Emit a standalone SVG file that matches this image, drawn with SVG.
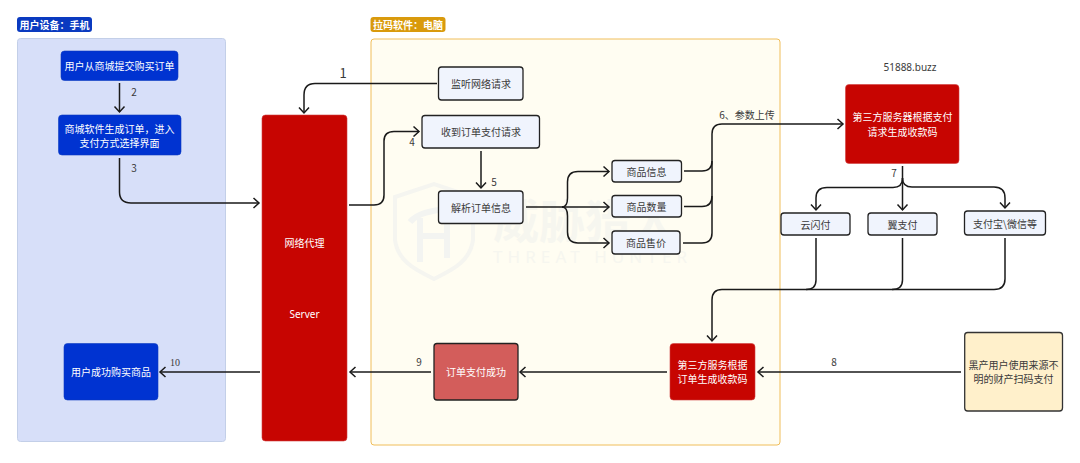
<svg xmlns="http://www.w3.org/2000/svg" width="1080" height="463" viewBox="0 0 1080 463">
<style>
text{font-family:"Noto Sans CJK SC","Noto Sans",sans-serif;font-size:10px;text-anchor:middle;fill:#3a3a3a}
.w{fill:#fff}
.lb{font-weight:700;fill:#fff}
.n{font-family:"Noto Sans","Noto Sans CJK SC",sans-serif}
.c{fill:none;stroke:#1a1a1a;stroke-width:1.5}
.a{marker-end:url(#arr)}
.blue{fill:#0033d1;stroke:#0a3ac0;stroke-width:.6}
.red{fill:#c70501;stroke:#d04040;stroke-width:.6}
.lite{fill:#f0f4fd;stroke:#222;stroke-width:1.3}
</style>
<defs>
<marker id="arr" markerUnits="userSpaceOnUse" markerWidth="14" markerHeight="14" refX="9" refY="7" orient="auto">
<path d="M3.500 2 L9 7 L3.500 12" fill="none" stroke="#1a1a1a" stroke-width="1.500"/>
</marker>
</defs>
<rect x="0" y="0" width="1080" height="463" fill="#fff"/>
<g id="group-phone">
<rect x="17.500" y="38.500" width="208" height="403" rx="3" fill="#d7dff9" stroke="#c3cfe8"/>
<rect x="17" y="17" width="75" height="15" rx="3" fill="#0a3ac0"/>
<text class="lb" x="54.500" y="28.500">用户设备：手机</text>
</g>
<g id="group-pc">
<rect x="371" y="39" width="409" height="406" rx="3" fill="#fffdf2" stroke="#f0be5a"/>
<rect x="370.500" y="17" width="75" height="15" rx="3" fill="#d99a0c"/>
<text class="lb" x="408" y="28.500">拉码软件：电脑</text>
</g>
<g id="watermark">
<path d="M395 197 L434 184 L473 197 V240 C470 262 452 270 434 279 C416 270 398 262 395 240 Z" fill="none" stroke="#f5f5f0" stroke-width="4"/>
<path d="M410 222 Q420 210 452 209 M420 218 V262 M447 212 V258 M420 236 H447" fill="none" stroke="#f3f4f1" stroke-width="6"/>
<text x="585" y="238" style="font-size:46px;font-weight:700;fill:#f6f6ef">威胁猎人</text>
<text x="590" y="263" class="n" textLength="194" style="font-size:17px;fill:#f6f6ef">THREAT HUNTER</text>
</g>
<g id="connectors">
<path class="c a" d="M437 83.500 H315 Q304 83.500 304 95 V113"/>
<path class="c a" d="M119.500 83 V112"/>
<path class="c a" d="M119.500 158 V192 Q119.500 203 131 203 H259"/>
<path class="c a" d="M349 205 H374 Q384 205 384 195 V141 Q384 131.500 394 131.500 H419"/>
<path class="c a" d="M481 151 V188"/>
<path class="c a" d="M526 207 H609"/>
<path class="c a" d="M562 207 Q567.500 207 567.500 198 V182 Q567.500 171.500 578 171.500 H609"/>
<path class="c a" d="M562 207 Q567.500 207 567.500 216 V232 Q567.500 243 578 243 H609"/>
<path class="c" d="M684 171 H702 Q712 171 712 161"/>
<path class="c" d="M684 206.500 H702 Q712 206.500 712 196"/>
<path class="c" d="M683 243 H702 Q712 243 712 233"/>
<path class="c a" d="M712 233 V134 Q712 124 722 124 H843"/>
<path class="c a" d="M902.500 166 V210"/>
<path class="c a" d="M902.500 178 Q902.500 187.500 893 187.500 H827 Q816 187.500 816 198 V210"/>
<path class="c a" d="M902.500 178 Q902.500 187 912 187 H994 Q1005 187 1005 198 V208"/>
<path class="c" d="M816 238 V280 Q816 289.500 806 289.500"/>
<path class="c" d="M902.500 238 V280 Q902.500 289.500 892 289.500"/>
<path class="c a" d="M1005 238 V279 Q1005 289.500 994 289.500 H722 Q712 289.500 712 300 V341"/>
<path class="c a" d="M961 372 H758"/>
<path class="c a" d="M667 372 H520"/>
<path class="c a" d="M431 372 H350"/>
<path class="c a" d="M260 372 H160"/>
</g>
<g id="labels">
<text x="343" y="77.500" style="font-size:13px">1</text>
<text x="134" y="96">2</text>
<text x="134" y="172">3</text>
<text x="412" y="146">4</text>
<text x="494" y="186">5</text>
<text x="747" y="118.500">6、参数上传</text>
<text x="894" y="177">7</text>
<text x="834" y="366">8</text>
<text x="419" y="366">9</text>
<text x="175" y="366" style="font-family:'Liberation Serif',serif">10</text>
<text x="910" y="70.500" class="n" style="font-size:10px">51888.buzz</text>
</g>
<g id="node-order"><rect class="blue" x="61" y="51" width="117" height="29.500" rx="3.500"/><text class="w" x="119.500" y="70">用户从商城提交购买订单</text></g>
<g id="node-generate"><rect class="blue" x="58.500" y="115" width="122.500" height="40" rx="3.500"/><text class="w" x="119.500" y="133">商城软件生成订单，进入</text><text class="w" x="119.500" y="147">支付方式选择界面</text></g>
<g id="node-success"><rect class="blue" x="64" y="343.500" width="94" height="56.500" rx="3.500"/><text class="w" x="111" y="376">用户成功购买商品</text></g>
<g id="node-proxy"><rect class="red" x="262" y="115" width="85" height="326" rx="3.500"/><text class="w" x="304.500" y="247">网络代理</text><text class="w n" x="304.500" y="318">Server</text></g>
<g id="node-listen"><rect class="lite" x="438.500" y="67" width="84.500" height="33" rx="3"/><text x="481" y="87.500">监听网络请求</text></g>
<g id="node-receive"><rect class="lite" x="422" y="115.500" width="117.500" height="32.500" rx="3"/><text x="481" y="135.500">收到订单支付请求</text></g>
<g id="node-parse"><rect class="lite" x="438.500" y="191" width="84.500" height="32.500" rx="3"/><text x="481" y="211.500">解析订单信息</text></g>
<g id="node-info"><rect class="lite" x="612" y="160.500" width="69.500" height="21.500" rx="3"/><text x="646.500" y="175.500">商品信息</text></g>
<g id="node-qty"><rect class="lite" x="612" y="195.500" width="69.500" height="21.500" rx="3"/><text x="646.500" y="210.500">商品数量</text></g>
<g id="node-price"><rect class="lite" x="612" y="231" width="68" height="23" rx="3"/><text x="646" y="247">商品售价</text></g>
<g id="node-server3"><rect class="red" x="845.500" y="84.500" width="113.500" height="79" rx="3.500"/><text class="w" x="902.500" y="121">第三方服务器根据支付</text><text class="w" x="902.500" y="136">请求生成收款码</text></g>
<g id="node-ysf"><rect class="lite" x="781" y="213" width="69" height="22" rx="3"/><text x="815.500" y="228.500">云闪付</text></g>
<g id="node-yi"><rect class="lite" x="868" y="213" width="69" height="22" rx="3"/><text x="902.500" y="228.500">翼支付</text></g>
<g id="node-ali"><rect class="lite" x="964.500" y="211" width="81" height="24" rx="3"/><text x="1005" y="227.500">支付宝\微信等</text></g>
<g id="node-qr"><rect class="red" x="670" y="343.500" width="85" height="56.500" rx="3.500"/><text class="w" x="712.500" y="369">第三方服务根据</text><text class="w" x="712.500" y="383">订单生成收款码</text></g>
<g id="node-paid"><rect x="434" y="343.500" width="84" height="56.500" rx="3" fill="#d35d5b" stroke="#222" stroke-width="1.300"/><text class="w" x="476" y="376">订单支付成功</text></g>
<g id="node-black"><rect x="964.700" y="332.500" width="97.800" height="78.500" rx="3" fill="#fff0cb" stroke="#333" stroke-width="1.300"/><text x="1013.500" y="369">黑产用户使用来源不</text><text x="1013.500" y="383">明的财产扫码支付</text></g>
</svg>
